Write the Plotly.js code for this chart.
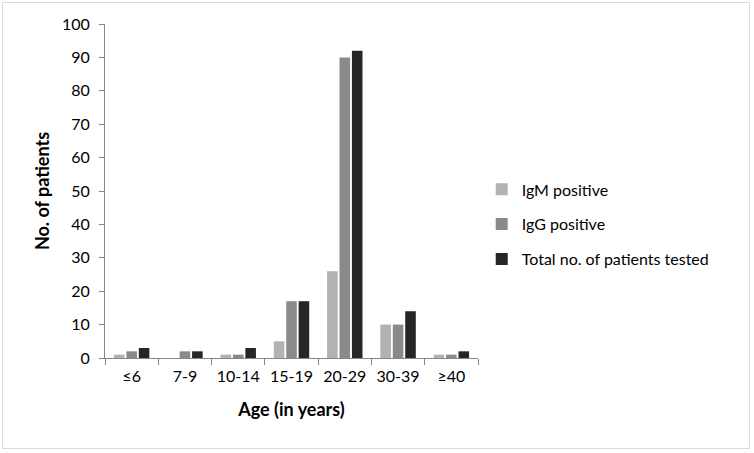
<!DOCTYPE html>
<html><head><meta charset="utf-8">
<script src="https://cdn.plot.ly/plotly-3.0.1.min.js"></script>
<style>
html,body{margin:0;padding:0;background:#fff;}
#wrap{position:relative;width:754px;height:453px;}
#frame{position:absolute;left:2px;top:2px;width:748px;height:447px;border:1px solid #d9d9d9;box-sizing:border-box;pointer-events:none;z-index:5;}
#chart{width:754px;height:453px;}
</style></head>
<body><div id="wrap"><div id="chart"></div><div id="frame"></div></div>
<script>
const categories = ["≤6","7-9","10-14","15-19","20-29","30-39","≥40"];
const igmPositive = [1,0,1,5,26,10,1];
const iggPositive = [2,2,1,17,90,10,1];
const totalTested = [3,2,3,17,92,14,2];
const seriesNames = ["IgM positive","IgG positive","Total no. of patients tested"];

const colors = ["#b2b2b2","#8a8a8a","#262626"];
const data = [igmPositive, iggPositive, totalTested].map((v,i)=>({
  type:"bar", x:categories, y:v, name:seriesNames[i], legendgroup:"g"+i,
  marker:{color:colors[i], line:{width:0}}
}));
const font = "Lato, 'Open Sans', sans-serif";
const layout = {
  width:754, height:453,
  margin:{l:105, r:276, t:24, b:95},
  paper_bgcolor:"#fff", plot_bgcolor:"#fff",
  font:{family:font, size:16, color:"#000"},
  bargap:0.3, bargroupgap:0.15,
  showlegend:true,
  legend:{x:1.01, xanchor:"left", y:0.4, yanchor:"middle", font:{size:16, family:font}, tracegroupgap:11, itemwidth:30},
  xaxis:{type:"category", tickson:"boundaries", ticks:"outside", ticklen:6, tickcolor:"#868686",
    showline:true, linecolor:"#868686", linewidth:1, showgrid:false,
    tickfont:{size:16, family:font}, ticklabelstandoff:4,
    title:{text:"<b>Age (in years)</b>", font:{size:18, family:font}, standoff:19}},
  yaxis:{range:[0,100], dtick:10, ticks:"outside", ticklen:5, tickcolor:"#868686",
    showline:true, linecolor:"#868686", linewidth:1, showgrid:false, zeroline:false,
    tickfont:{size:16, family:font}, ticklabelstandoff:6,
    title:{text:"<b>No. of patients</b>", font:{size:18, family:font}, standoff:7}}
};
Plotly.newPlot("chart", data, layout, {displayModeBar:false, staticPlot:true});
</script></body></html>
